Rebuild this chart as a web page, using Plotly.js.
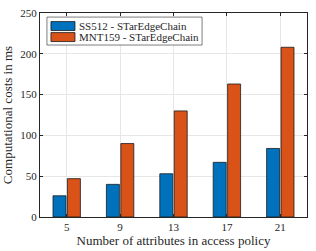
<!DOCTYPE html>
<html><head><meta charset="utf-8">
<script src="https://cdn.plot.ly/plotly-3.0.1.min.js"></script>
<style>html,body{margin:0;padding:0;background:#fff}#c{width:316px;height:251px}</style>
</head><body><div id="c"></div>
<script>
const categories = ['5','9','13','17','21'];
const ss512 = [26, 40, 53, 67, 84];
const mnt159 = [47, 90, 130, 163, 208];
const seriesNames = ['SS512 - STarEdgeChain', 'MNT159 - STarEdgeChain'];
const seriesColors = ['#0072BD', '#D95319'];
const yTicks = [0, 50, 100, 150, 200, 250];

const font = {family: 'Liberation Serif', color: '#262626'};
const data = [ss512, mnt159].map((vals, i) => ({
  type:'bar', x:categories, y:vals, name:seriesNames[i],
  marker:{color:seriesColors[i], line:{color:'#1a1a1a', width:0.8}}
}));

// manual legend (MATLAB-like)
const shapes = [{type:'rect', xref:'paper', yref:'paper', x0:0.026, x1:0.607, y0:0.843, y1:0.980,
  fillcolor:'#fff', line:{color:'#262626', width:0.6}, layer:'above'}];
const annotations = [];
const rowY = [0.936, 0.882];
seriesNames.forEach((n, i) => {
  shapes.push({type:'rect', xref:'paper', yref:'paper', x0:0.041, x1:0.131,
    y0:rowY[i]-0.022, y1:rowY[i]+0.022, fillcolor:seriesColors[i],
    line:{color:'#1a1a1a', width:0.8}, layer:'above'});
  annotations.push({xref:'paper', yref:'paper', x:0.139, y:rowY[i], xanchor:'left', yanchor:'middle',
    text:n, showarrow:false, font:{...font, size:11}});
});

const axisCommon = {showline:true, mirror:'ticks', linecolor:'#262626', linewidth:1,
  ticks:'inside', ticklen:3, tickcolor:'#262626', gridcolor:'#e6e6e6', zeroline:false,
  tickfont:{...font, size:11}};
const layout = {
  width:316, height:251,
  margin:{l:40, r:9, t:13, b:34},
  paper_bgcolor:'#fff', plot_bgcolor:'#fff',
  barmode:'group', bargap:0.46, bargroupgap:0.1,
  font:font, showlegend:false, shapes:shapes, annotations:annotations,
  xaxis:{...axisCommon, type:'category', range:[-0.5,4.5], showgrid:true,
    title:{text:'Number of attributes in access policy', font:{...font, size:13}, standoff:2}},
  yaxis:{...axisCommon, range:[0,250], tickvals:yTicks, showgrid:true,
    title:{text:'Computational costs in ms', font:{...font, size:13}, standoff:5}}
};
Plotly.newPlot('c', data, layout, {displayModeBar:false, staticPlot:true});
</script></body></html>
